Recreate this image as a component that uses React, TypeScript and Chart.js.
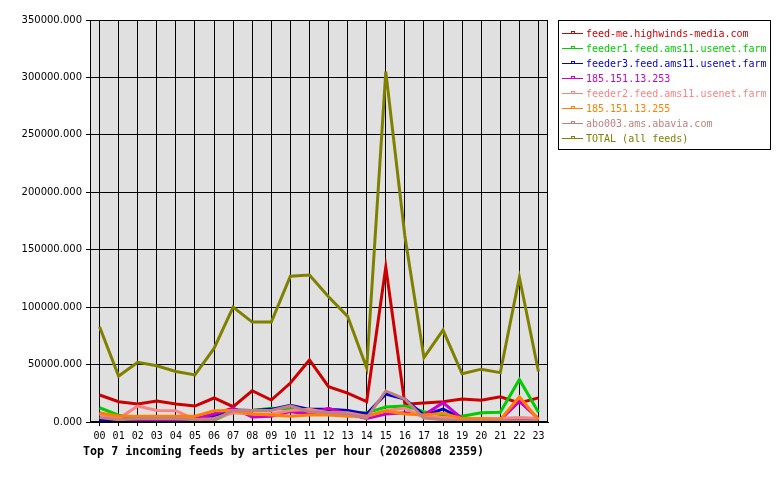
import React, { useEffect, useRef } from 'react';
import { Chart, registerables } from 'chart.js';

Chart.register(...registerables);

const hours = ['00', '01', '02', '03', '04', '05', '06', '07', '08', '09', '10', '11', '12', '13', '14', '15', '16', '17', '18', '19', '20', '21', '22', '23'];

const feedMe = [23500, 17700, 15700, 18300, 15700, 13900, 20900, 13300, 27200, 19100, 33900, 54000, 30700, 25200, 17700, 135000, 15500, 16500, 17700, 20000, 19000, 22000, 16500, 21000];
const feeder1 = [12400, 6000, 3000, 2000, 2000, 1000, 1500, 9000, 10000, 12000, 11000, 9000, 9000, 8000, 8000, 13000, 14000, 9000, 6000, 5000, 8000, 8500, 37000, 8500];
const feeder3 = [1500, 1000, 1500, 1500, 1500, 2000, 5000, 10400, 10000, 11000, 14500, 11000, 11000, 10000, 7000, 24400, 20000, 6000, 11300, 3000, 2500, 2500, 2500, 2000];
const ip253 = [8000, 3000, 2000, 2000, 2000, 3000, 7000, 12000, 4400, 5000, 9000, 7000, 12000, 7000, 3000, 7000, 8000, 6000, 16800, 3000, 2000, 2000, 18000, 3000];
const feeder2 = [7000, 3000, 13900, 10000, 9800, 2000, 3000, 8000, 7000, 7000, 10000, 11000, 8000, 8000, 5000, 10000, 12000, 4000, 4000, 3000, 3000, 3000, 4000, 3000];
const ip255 = [7800, 5200, 5000, 5000, 5000, 5000, 9800, 10000, 7000, 6000, 5000, 6000, 6000, 5000, 5000, 9600, 7000, 6000, 7500, 3000, 3000, 2000, 22000, 2000];
const abo003 = [4000, 2000, 3000, 3000, 3000, 2000, 2000, 10000, 10000, 10000, 14000, 9000, 8000, 7000, 3500, 27000, 20000, 3500, 2000, 1000, 1000, 1000, 1000, 1000];
const total = [83000, 40000, 52000, 49000, 44000, 41000, 64000, 100000, 87000, 87000, 127000, 128000, 109000, 92000, 47000, 305000, 162000, 56000, 80000, 42000, 46000, 43000, 126000, 44000];

const seriesNames = [
  'feed-me.highwinds-media.com',
  'feeder1.feed.ams11.usenet.farm',
  'feeder3.feed.ams11.usenet.farm',
  '185.151.13.253',
  'feeder2.feed.ams11.usenet.farm',
  '185.151.13.255',
  'abo003.ams.abavia.com',
  'TOTAL (all feeds)',
];
const seriesValues = [feedMe, feeder1, feeder3, ip253, feeder2, ip255, abo003, total];
const seriesColors = ['#cc0000', '#00cc00', '#0000cc', '#cc00cc', '#ff8080', '#ff8000', '#c08080', '#808000'];

const yMax = 350000;
const yStep = 50000;

const monoFont = '"DejaVu Sans Mono", monospace';

// plot background + right border, like the old gd style graph
const plotFrame = {
  id: 'plotFrame',
  beforeDraw: (chart: Chart) => {
    const { ctx, chartArea } = chart;
    ctx.save();
    ctx.fillStyle = '#e0e0e0';
    ctx.fillRect(chartArea.left, chartArea.top, chartArea.right - chartArea.left, chartArea.bottom - chartArea.top);
    ctx.restore();
  },
  afterDraw: (chart: Chart) => {
    const { ctx, chartArea } = chart;
    ctx.save();
    ctx.strokeStyle = '#000';
    ctx.lineWidth = 1;
    ctx.strokeRect(chartArea.left + 0.5, chartArea.top + 0.5, chartArea.right - chartArea.left - 1, chartArea.bottom - chartArea.top - 1);
    ctx.restore();
  },
};

const App: React.FC = () => {
  const chartRef = useRef<HTMLCanvasElement | null>(null);
  const chartInstance = useRef<Chart | null>(null);

  useEffect(() => {
    document.body.style.margin = '0';
    const ctx = chartRef.current?.getContext('2d');
    if (!ctx) return;

    chartInstance.current = new Chart(ctx, {
      type: 'line',
      data: {
        labels: hours,
        datasets: seriesNames.map((name, i) => ({
          label: name,
          data: seriesValues[i],
          borderColor: seriesColors[i],
          backgroundColor: seriesColors[i],
          borderWidth: 3,
          pointRadius: 0,
          tension: 0,
          fill: false,
          order: seriesNames.length - i,
        })),
      },
      options: {
        animation: false,
        responsive: false,
        layout: { padding: { left: 0, top: 20, right: 232, bottom: 0 } },
        plugins: {
          legend: { display: false },
          tooltip: { enabled: false },
        },
        scales: {
          x: {
            offset: true,
            grid: { offset: false, color: '#000', lineWidth: 1, tickLength: 4 },
            border: { color: '#000', width: 1 },
            ticks: { color: '#000', font: { family: monoFont, size: 10 }, padding: 4, maxRotation: 0, autoSkip: false },
            afterFit: (scale: any) => { scale.height = 58; },
          },
          y: {
            min: 0,
            max: yMax,
            grid: { color: '#000', lineWidth: 1, tickLength: 4 },
            border: { color: '#000', width: 1 },
            ticks: {
              stepSize: yStep,
              color: '#000',
              font: { family: '"DejaVu Sans", sans-serif', size: 10 },
              padding: 4,
              callback: (v: any) => Number(v).toFixed(3),
            },
            afterFit: (scale: any) => { scale.width = 90; },
          },
        },
      },
      plugins: [plotFrame],
    });

    return () => {
      if (chartInstance.current) {
        chartInstance.current.destroy();
        chartInstance.current = null;
      }
    };
  }, []);

  return (
    <div style={{ position: 'absolute', left: 0, top: 0, width: 780, height: 480, background: '#fff' }}>
      <canvas ref={chartRef} width={780} height={480} style={{ position: 'absolute', left: 0, top: 0 }} />
      <div
        style={{
          position: 'absolute',
          left: 558,
          top: 20,
          width: 213,
          height: 130,
          border: '1px solid #000',
          padding: '5px 0 0 3px',
          boxSizing: 'border-box',
          fontFamily: monoFont,
          fontSize: 10,
        }}
      >
        {seriesNames.map((name, i) => (
          <div key={name} style={{ display: 'flex', alignItems: 'center', height: 15, color: seriesColors[i], whiteSpace: 'nowrap' }}>
            <span style={{ position: 'relative', display: 'inline-block', width: 21, height: 15, marginRight: 3 }}>
              <span style={{ position: 'absolute', left: 0, right: 0, top: 7, height: 1, background: seriesColors[i] }} />
              <span style={{ position: 'absolute', left: 9, top: 5, width: 2, height: 1, border: `1px solid ${seriesColors[i]}`, background: '#fff' }} />
            </span>
            {name}
          </div>
        ))}
      </div>
      <div
        style={{
          position: 'absolute',
          left: 83,
          top: 444,
          fontFamily: monoFont,
          fontWeight: 'bold',
          fontSize: 11.7,
          color: '#000',
          whiteSpace: 'nowrap',
        }}
      >
        Top 7 incoming feeds by articles per hour (20260808 2359)
      </div>
    </div>
  );
};

export default App;
